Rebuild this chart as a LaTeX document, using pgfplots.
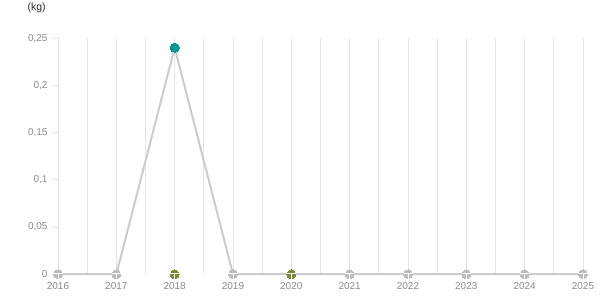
\documentclass[border=0pt]{standalone}
\usepackage{pgfplots}
\pgfplotsset{compat=1.18}
\usepackage{fontspec}
\setmainfont{Liberation Sans}
\definecolor{gridc}{HTML}{E6E6E6}
\definecolor{linec}{HTML}{CCCCCC}
\definecolor{markc}{HTML}{BDBDBD}
\definecolor{olivec}{HTML}{7A8B38}
\definecolor{tealc}{HTML}{00998F}
\definecolor{labc}{HTML}{8A8A8A}
\pgfdeclareplotmark{tee}{%
  \pgfsetlinewidth{0.9pt}\pgfsetstrokecolor{white}%
  \pgfpathmoveto{\pgfpoint{-4.5pt}{0.3pt}}\pgfpathlineto{\pgfpoint{4.5pt}{0.3pt}}%
  \pgfpathmoveto{\pgfpoint{0pt}{0.3pt}}\pgfpathlineto{\pgfpoint{0pt}{-4.5pt}}%
  \pgfusepathqstroke}
\begin{document}
\begin{tikzpicture}
\path (0,0) rectangle (615pt,305pt);
\node[anchor=west, font=\fontsize{10.5}{12}\selectfont, text=black!85] at (24pt,297pt) {(kg)};
\begin{axis}[
  at={(58pt,31pt)}, anchor=south west,
  scale only axis, width=525pt, height=236pt,
  xmin=2016, xmax=2025, ymin=0, ymax=0.25,
  clip=false,
  axis x line*=bottom, axis y line*=left,
  axis line style={draw=none},
  xtick={2016,...,2025},
  minor xtick={2016.5,2017.5,...,2024.5},
  xmajorgrids, xminorgrids,
  grid style={gridc, line width=0.8pt},
  minor grid style={gridc, line width=0.8pt},
  x tick style={draw=none},
  minor tick length=0pt,
  ytick={0,0.05,0.1,0.15,0.2,0.25},
  yticklabels={0,{0,05},{0,1},{0,15},{0,2},{0,25}},
  xticklabel style={yshift=1pt},
  y tick style={gridc, line width=0.8pt},
  major tick length=6pt, tick align=outside,
  ticklabel style={font=\fontsize{10}{12}\selectfont, text=labc},
  xticklabel={\pgfmathprintnumber[1000 sep=]{\tick}},
  /pgf/number format/assume math mode=true,
  yticklabel style={xshift=-1pt},
]
\addplot[linec, line width=2pt, mark=*, mark size=4.5pt, mark options={fill=markc, draw=markc, line width=0pt}] coordinates {
(2016,0) (2017,0) (2018,0.24) (2019,0) (2020,0) (2021,0) (2022,0) (2023,0) (2024,0) (2025,0)};
\addplot[olivec, only marks, mark=*, mark size=4.5pt, mark options={fill=olivec, draw=olivec, line width=0pt}] coordinates {(2018,0) (2020,0)};
\addplot[only marks, mark=tee] coordinates {
(2016,0) (2017,0) (2018,0) (2019,0) (2020,0) (2021,0) (2022,0) (2023,0) (2024,0) (2025,0)};
\addplot[tealc, only marks, mark=*, mark size=4.5pt, mark options={fill=tealc, draw=tealc, line width=0pt}] coordinates {(2018,0.24)};
\end{axis}
\end{tikzpicture}
\end{document}
